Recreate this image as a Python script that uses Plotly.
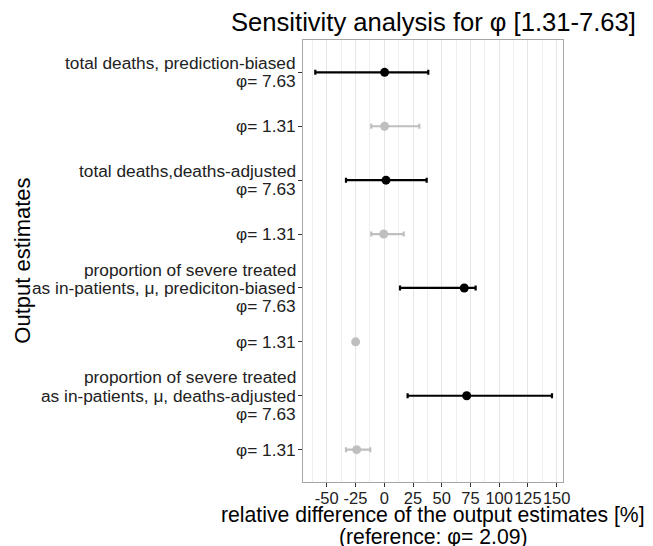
import plotly.graph_objects as go

# ---- data (top to bottom) ----
row_labels = [
    "total deaths, prediction-biased<br>φ= 7.63",
    "φ= 1.31",
    "total deaths,deaths-adjusted<br>φ= 7.63",
    "φ= 1.31",
    "proportion of severe treated<br>as in-patients, μ, prediciton-biased<br>φ= 7.63",
    "φ= 1.31",
    "proportion of severe treated<br>as in-patients, μ, deaths-adjusted<br>φ= 7.63",
    "φ= 1.31",
]
estimate = [0.3, 0.3, 1.5, -0.5, 69.6, -24.9, 71.7, -24.0]
lower = [-60.0, -11.3, -33.3, -11.3, 13.7, -24.9, 20.3, -33.3]
upper = [38.3, 30.5, 36.9, 16.9, 79.5, -24.9, 145.9, -12.2]
phi_group = ["7.63", "1.31", "7.63", "1.31", "7.63", "1.31", "7.63", "1.31"]
x_ticks = [-50, -25, 0, 25, 50, 75, 100, 125, 150]

n = len(row_labels)
ypos = [n - i for i in range(n)]  # top row highest

colors = {"7.63": "#000000", "1.31": "#bfbfbf"}

FONT = "Liberation Sans, Arial, sans-serif"
TICK_SIZE = 17.3
LINE_H = 18.3

fig = go.Figure()
for grp in ["1.31", "7.63"]:
    idx = [i for i in range(n) if phi_group[i] == grp]
    fig.add_trace(go.Scatter(
        x=[estimate[i] for i in idx],
        y=[ypos[i] for i in idx],
        mode="markers",
        marker=dict(color=colors[grp], size=9),
        error_x=dict(
            type="data",
            symmetric=False,
            array=[upper[i] - estimate[i] for i in idx],
            arrayminus=[estimate[i] - lower[i] for i in idx],
            color=colors[grp],
            thickness=2.2,
            width=2.5,
        ),
        showlegend=False,
        hoverinfo="skip",
    ))

# y-axis category labels, one annotation per text line (tight line spacing)
label_annots = []
for i, lab in enumerate(row_labels):
    lines = lab.split("<br>")
    k = len(lines)
    for j, line in enumerate(lines):
        label_annots.append(dict(
            text=line, xref="paper", yref="y", x=0, y=ypos[i],
            xanchor="right", yanchor="middle", xshift=-5,
            yshift=-(j - (k - 1) / 2) * LINE_H, showarrow=False,
            font=dict(size=TICK_SIZE, family=FONT, color="#222222"),
        ))

# the browser page has an 8px body margin, so the figure is shrunk by 8px
fig.update_layout(
    width=645,
    height=538,
    margin=dict(l=295, r=90, t=32, b=64, autoexpand=False),
    paper_bgcolor="white",
    plot_bgcolor="white",
    font=dict(family=FONT, color="#1a1a1a"),
    xaxis=dict(
        range=[-70.7, 155.5],
        tickmode="array",
        tickvals=x_ticks,
        ticktext=[str(v) for v in x_ticks],
        tickangle=0,
        ticks="outside",
        ticklen=4,
        ticklabelstandoff=-3,
        tickcolor="#333333",
        tickfont=dict(size=16.5, family=FONT, color="#222222"),
        showgrid=True,
        gridcolor="#e6e6e6",
        gridwidth=1,
        minor=dict(tickmode="linear", tick0=-62.5, dtick=12.5, showgrid=True,
                   gridcolor="#eeeeee", gridwidth=1),
        zeroline=False,
        showline=True,
        mirror=True,
        linecolor="#a6a6a6",
        linewidth=1,
        fixedrange=True,
    ),
    yaxis=dict(
        range=[0.4, n + 0.6],
        tickmode="array",
        tickvals=ypos,
        showticklabels=False,
        ticks="outside",
        ticklen=4,
        tickcolor="#333333",
        showgrid=False,
        zeroline=False,
        showline=True,
        mirror=True,
        linecolor="#a6a6a6",
        linewidth=1,
        fixedrange=True,
    ),
    annotations=label_annots + [
        dict(text="Sensitivity analysis for φ [1.31-7.63]", xref="paper", yref="paper",
             x=0.5, y=1, yanchor="bottom", yshift=2, showarrow=False,
             font=dict(size=25.6, family=FONT, color="#000000")),
        dict(text="Output estimates", xref="paper", yref="paper",
             x=(13.7 - 295) / 260, y=0.5, xanchor="center", yanchor="middle",
             textangle=-90, showarrow=False,
             font=dict(size=22, family=FONT, color="#000000")),
        dict(text="relative difference of the output estimates [%]", xref="paper", yref="paper",
             x=0.5, y=0, yanchor="middle", yshift=-(515 - 482), showarrow=False,
             font=dict(size=21.2, family=FONT, color="#000000")),
        dict(text="(reference: φ= 2.09)", xref="paper", yref="paper",
             x=0.5, y=0, yanchor="middle", yshift=-(537 - 482), showarrow=False,
             font=dict(size=21.2, family=FONT, color="#000000")),
    ],
)

fig.write_html("out.html")
